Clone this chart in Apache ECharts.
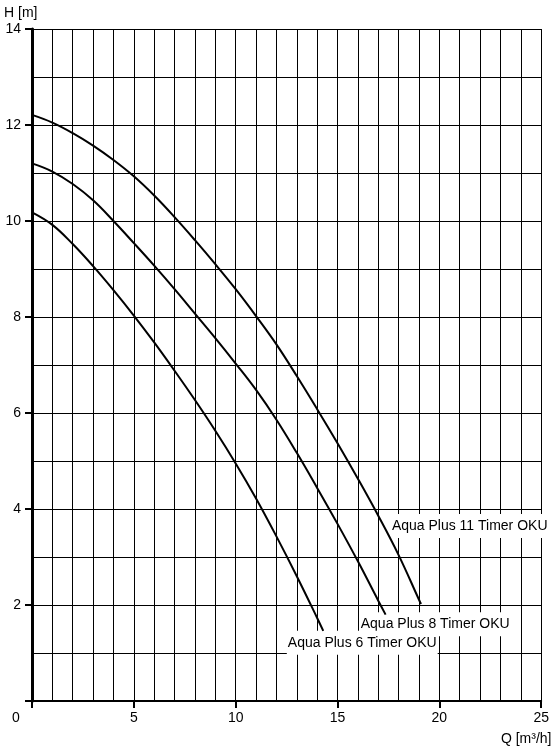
<!DOCTYPE html>
<html>
<head>
<meta charset="utf-8">
<script src="https://cdn.jsdelivr.net/npm/echarts@6/dist/echarts.min.js"></script>
<style>
html,body{margin:0;padding:0;background:#fff;}
#c{width:552px;height:752px;}
</style>
</head>
<body>
<div id="c"></div>
<script>
// ---- data ----
const seriesNames = ['Aqua Plus 11 Timer OKU', 'Aqua Plus 8 Timer OKU', 'Aqua Plus 6 Timer OKU'];
// [Q (m³/h), H (m)]
const curve11 = [[0,12.21],[1,12.05],[2,11.83],[3,11.57],[4,11.27],[5,10.93],[6,10.53],[7,10.08],[8,9.6],[9,9.1],[10,8.58],[11,8.02],[12,7.43],[13,6.77],[14,6.08],[15,5.37],[16,4.63],[17,3.86],[18,3.04],[19,2.11],[19.1,2.02]];
const curve8  = [[0,11.2],[1,11.03],[2,10.77],[3,10.43],[4,10.0],[5,9.54],[6,9.07],[7,8.58],[8,8.07],[9,7.56],[10,7.03],[11,6.48],[12,5.86],[13,5.17],[14,4.44],[15,3.69],[16,2.91],[17,2.09],[17.36,1.8]];
const curve6  = [[0,10.18],[1,9.92],[2,9.52],[3,9.06],[4,8.56],[5,8.03],[6,7.47],[7,6.88],[8,6.27],[9,5.63],[10,4.95],[11,4.22],[12,3.43],[13,2.6],[14,1.73],[14.3,1.46]];
const xTitle = 'Q [m³/h]';
const yTitle = 'H [m]';
const originLabel = '0';

// ---- layout / placement (not data) ----
const labelPlacement = [[17.62, 3.646], [16.09, 1.60], [12.51, 1.215]];
const FONT = '"Liberation Sans", Arial, Helvetica, sans-serif';

const curves = [curve11, curve8, curve6];

const chart = echarts.init(document.getElementById('c'), null, {renderer: 'canvas'});

const series = curves.map((d, i) => ({
  name: seriesNames[i],
  type: 'line',
  data: d,
  smooth: 0.4,
  symbol: 'none',
  showSymbol: false,
  silent: true,
  lineStyle: {color: '#000', width: 2},
  z: 5,
  markPoint: {
    silent: true,
    symbol: 'rect',
    symbolSize: 0,
    data: [{coord: labelPlacement[i], value: seriesNames[i]}],
    label: {
      show: true,
      position: 'right',
      distance: 0,
      formatter: seriesNames[i],
      color: '#000',
      fontSize: 14,
      fontFamily: FONT,
      backgroundColor: '#fff',
      padding: [5, 1, 5, 1]
    }
  }
}));

const axisCommon = {
  type: 'value',
  axisLine: {show: true, onZero: false, lineStyle: {color: '#000', width: 2}},
  axisTick: {show: true, inside: false, length: 7, lineStyle: {color: '#000', width: 2}},
  axisLabel: {color: '#000', fontSize: 14, fontFamily: FONT},
  splitLine: {show: true, lineStyle: {color: '#000', width: 1}},
  minorSplitLine: {show: true, lineStyle: {color: '#000', width: 1}}
};

chart.setOption({
  animation: false,
  backgroundColor: '#fff',
  grid: {left: 32, right: 7.7, top: 29, bottom: 51},
  xAxis: Object.assign({}, axisCommon, {
    min: 0, max: 25, interval: 5,
    minorTick: {show: false, splitNumber: 5},
    axisLabel: Object.assign({}, axisCommon.axisLabel, {margin: 10, formatter: v => v === 0 ? '' : String(v)})
  }),
  yAxis: Object.assign({}, axisCommon, {
    min: 0, max: 14, interval: 2,
    minorTick: {show: false, splitNumber: 2},
    axisLine: {show: true, onZero: false, lineStyle: {color: '#000', width: 3}},
    axisLabel: Object.assign({}, axisCommon.axisLabel, {margin: 11, formatter: v => v === 0 ? '' : String(v)})
  }),
  graphic: [
    {type: 'text', x: 4, y: 13, style: {text: yTitle, font: '14px ' + FONT, fill: '#000', align: 'left', verticalAlign: 'middle'}},
    {type: 'text', x: 551.5, y: 739, style: {text: xTitle, font: '14px ' + FONT, fill: '#000', align: 'right', verticalAlign: 'middle'}},
    {type: 'text', x: 16, y: 718, style: {text: originLabel, font: '14px ' + FONT, fill: '#000', align: 'center', verticalAlign: 'middle'}}
  ],
  series: series
});
</script>
</body>
</html>
